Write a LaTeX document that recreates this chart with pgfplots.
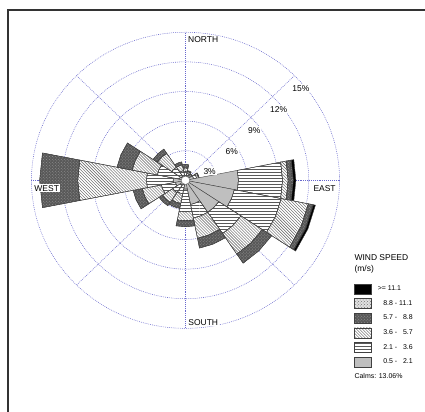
\documentclass[border=0pt]{standalone}
\usepackage{fontspec}
\setmainfont{Liberation Sans}
\usepackage{pgfplots}
\pgfplotsset{compat=1.18}
\usepackage{pgfplotstable}
\usetikzlibrary{patterns}

% frequency (%) per direction (0 = N, clockwise) and speed class
% c1: 0.5-2.1  c2: 2.1-3.6  c3: 3.6-5.7  c4: 5.7-8.8  c5: 8.8-11.1  c6: >=11.1 m/s
\pgfplotstableread{
dir c1   c2   c3   c4   c5   c6
0   0.5  0.4  0.35 0.35 0    0
1   0.4  0.3  0.2  0.1  0    0
2   0.4  0.2  0.15 0.05 0    0
3   0.8  0.3  0.2  0.05 0    0
4   5.15 4.3  0.55 0.4  0.1  0.25
5   4.85 4.65 2.7  0.45 0.05 0.2
6   3.9  2.6  2.5  1.1  0    0
7   2.5  1.4  2.1  1.0  0    0
8   0.9  2.3  0.9  0.6  0    0
9   0.5  0.9  1.0  0.5  0    0
10  0.6  0.9  1.2  0.4  0    0
11  1.0  1.4  1.9  0.9  0    0
12  1.2  2.6  6.7  3.7  0    0
13  0.6  2.2  2.5  1.5  0    0
14  0.5  1.1  1.7  0.5  0    0
15  0.4  0.6  0.6  0.3  0    0
}\windtable

\definecolor{gridblue}{RGB}{105,105,205}

\tikzset{
  edge/.style={draw=black!75, line width=0.4bp},
  ws1/.style={edge, fill=black!25},
  ws2/.style={edge, preaction={fill=white}, pattern=horizontal lines, pattern color=black!65},
  ws3/.style={edge, preaction={fill=white}, pattern=north west lines, pattern color=black!65},
  ws4/.style={edge, preaction={fill=black!65}, pattern=crosshatch dots, pattern color=black!42},
  ws5/.style={edge, preaction={fill=black!12}, pattern=crosshatch dots, pattern color=black!55},
  ws6/.style={edge, fill=black},
  gridline/.style={gridblue, line width=0.55bp, dash pattern=on 0.8bp off 1.1bp},
  lbl/.style={fill=white, inner sep=1bp, font=\fontsize{8.5}{10}\selectfont},
}

\begin{document}
\begin{tikzpicture}
\useasboundingbox (0,0) rectangle (425bp,-412bp);
% frame
\draw[black!80, line width=1.7bp] (8.2bp,-412bp) -- (8.2bp,-10.2bp) -- (425bp,-10.2bp);

\begin{axis}[
  at={(185.5bp,-180.3bp)}, anchor=origin,
  x=10.27bp, y=9.87bp,
  xmin=-16, xmax=16, ymin=-16, ymax=16,
  hide axis, clip=false,
  legend image code/.code={\draw[#1] (0bp,-5bp) rectangle (17bp,5bp);},
  legend style={at={(1.0138,0.1731)}, anchor=north west, draw=none, fill=none,
    inner sep=0pt, outer sep=0pt, row sep=4.3bp, column sep=6.1bp,
    font=\fontsize{7}{8}\selectfont, nodes={inner sep=0pt}},
  legend cell align=left,
]
% rings and radial guide lines
\pgfplotsinvokeforeach{3,6,9,12,15}{
  \draw[gridline] (axis cs:0,0) ellipse [x radius=#1, y radius=#1];
}
\pgfplotsinvokeforeach{0,45,...,315}{
  \addplot[gridline, data cs=polar, forget plot] coordinates {(#1,0) (#1,15)};
}

% stacked sectors
\pgfplotsforeachungrouped \d in {0,...,15}{%
  \pgfmathsetmacro\amid{90-22.5*\d}%
  \pgfmathsetmacro\angA{\amid-11.25}%
  \pgfmathsetmacro\angB{\amid+11.25}%
  \def\rin{0}%
  \pgfplotsforeachungrouped \k in {1,...,6}{%
    \pgfplotstablegetelem{\d}{c\k}\of\windtable
    \let\val\pgfplotsretval
    \pgfmathsetmacro\rout{\rin+\val}%
    \ifdim\val pt>0pt
      \edef\band{\noexpand\addplot[ws\k, data cs=polar, forget plot] coordinates {(\angA,\rin) (\amid,\rin) (\angB,\rin) (\angB,\rout) (\amid,\rout) (\angA,\rout)} -- cycle;}%
      \band
    \fi
    \let\rin\rout
  }%
}
% calm circle
\draw[black!60, line width=0.4bp, fill=white] (axis cs:0,0) ellipse [x radius=0.42, y radius=0.42];

% direction and percent labels
\node[lbl, anchor=west] at (axis cs:0.15,14.25) {NORTH};
\node[lbl, anchor=west] at (axis cs:0.17,-14.4) {SOUTH};
\node[lbl, anchor=west] at (axis cs:-14.82,-0.83) {WEST};
\node[lbl, anchor=west] at (axis cs:12.35,-0.83) {EAST};
\node[lbl] at (axis cs:2.35,0.92) {3\%};
\node[lbl] at (axis cs:4.5,2.95) {6\%};
\node[lbl] at (axis cs:6.7,5.07) {9\%};
\node[lbl] at (axis cs:9.07,7.2) {12\%};
\node[lbl] at (axis cs:11.23,9.33) {15\%};

% legend
\node[anchor=west, inner sep=0pt, font=\fontsize{8.5}{9}\selectfont] at (axis cs:16.44,-7.87) {WIND SPEED};
\node[anchor=west, inner sep=0pt, font=\fontsize{8.5}{9}\selectfont] at (axis cs:16.44,-9.06) {(m/s)};
\node[anchor=west, inner sep=0pt, font=\fontsize{7}{8}\selectfont] at (axis cs:16.44,-19.83) {Calms: 13.06\%};
\addlegendimage{ws6}\addlegendentry{>= 11.1}
\addlegendimage{ws5}\addlegendentry{\hspace{5.4bp}8.8 - 11.1}
\addlegendimage{ws4}\addlegendentry{\hspace{5.4bp}5.7 - \phantom{1}8.8}
\addlegendimage{ws3}\addlegendentry{\hspace{5.4bp}3.6 - \phantom{1}5.7}
\addlegendimage{ws2}\addlegendentry{\hspace{5.4bp}2.1 - \phantom{1}3.6}
\addlegendimage{ws1}\addlegendentry{\hspace{5.4bp}0.5 - \phantom{1}2.1}
\end{axis}
\end{tikzpicture}
\end{document}
